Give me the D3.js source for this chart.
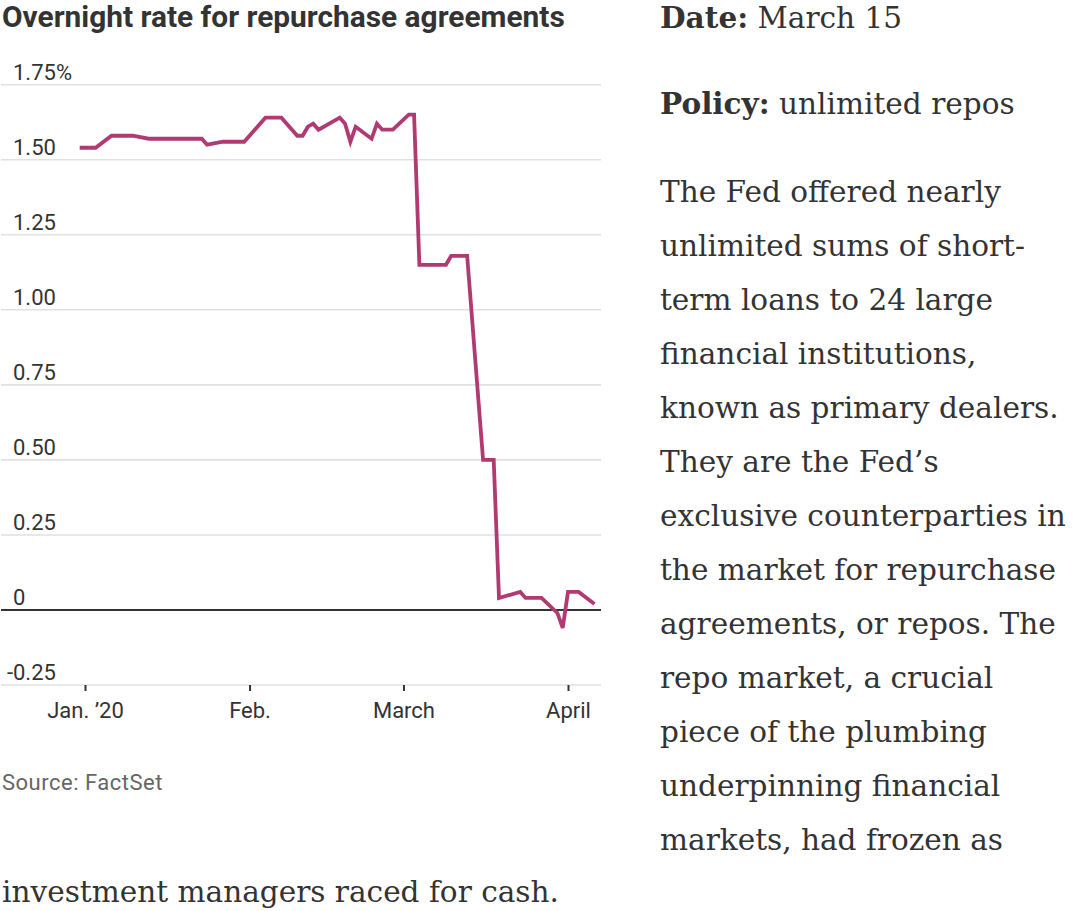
<!DOCTYPE html>
<html>
<head>
<meta charset="utf-8">
<script src="https://cdn.jsdelivr.net/npm/d3@7"></script>
<style>
  body { margin: 0; background: #fff; }
  svg { display: block; }
</style>
</head>
<body>
<script>
// overnight repo rate (%)
var dates = ["2019-12-31", "2020-01-03", "2020-01-06", "2020-01-10", "2020-01-13",
  "2020-01-23", "2020-01-24", "2020-01-27", "2020-01-31", "2020-02-04", "2020-02-07",
  "2020-02-10", "2020-02-11", "2020-02-12", "2020-02-13", "2020-02-14", "2020-02-18",
  "2020-02-19", "2020-02-20", "2020-02-21", "2020-02-24", "2020-02-25", "2020-02-26",
  "2020-02-28", "2020-03-02", "2020-03-03", "2020-03-04", "2020-03-09", "2020-03-10",
  "2020-03-13", "2020-03-16", "2020-03-18", "2020-03-19", "2020-03-23", "2020-03-24",
  "2020-03-27", "2020-03-30", "2020-03-31", "2020-04-01", "2020-04-03", "2020-04-06"];
var rates = [1.54, 1.54, 1.58, 1.58, 1.57,
  1.57, 1.55, 1.56, 1.56, 1.64, 1.64,
  1.58, 1.58, 1.61, 1.62, 1.60, 1.64,
  1.62, 1.56, 1.61, 1.57, 1.62, 1.60,
  1.60, 1.65, 1.65, 1.15, 1.15, 1.18,
  1.18, 0.50, 0.50, 0.04, 0.06, 0.04,
  0.04, -0.01, -0.06, 0.06, 0.06, 0.02];

var yTicks = [-0.25, 0, 0.25, 0.5, 0.75, 1, 1.25, 1.5, 1.75];
var yTickLabels = ["-0.25", "0", "0.25", "0.50", "0.75", "1.00", "1.25", "1.50", "1.75%"];
var xTicks = ["2020-01-01", "2020-02-01", "2020-03-01", "2020-04-01"];
var xTickLabels = ["Jan. \u201920", "Feb.", "March", "April"];

var title = "Overnight rate for repurchase agreements";
var source = "Source: FactSet";
var bodyLines = [
  "The Fed offered nearly",
  "unlimited sums of short-",
  "term loans to 24 large",
  "financial institutions,",
  "known as primary dealers.",
  "They are the Fed\u2019s",
  "exclusive counterparties in",
  "the market for repurchase",
  "agreements, or repos. The",
  "repo market, a crucial",
  "piece of the plumbing",
  "underpinning financial",
  "markets, had frozen as"
];
var lastLine = "investment managers raced for cash.";

var sans = "Roboto, 'Open Sans', sans-serif";
var serif = "'DejaVu Serif', 'Liberation Serif', serif";
var ink = "#333";
var tickSize = 22;

var W = 1076, H = 911;
var parse = d3.utcParse("%Y-%m-%d");
var data = dates.map(function(d, i) { return {date: parse(d), rate: rates[i]}; });

var svg = d3.select("body").append("svg")
  .attr("width", W)
  .attr("height", H);

// shrink or grow a text so it spans the given width
function fit(sel, target) {
  var size = parseFloat(sel.attr("font-size"));
  var w = sel.node().getComputedTextLength();
  sel.attr("font-size", (size * target / w).toFixed(2));
}

// title
var t = svg.append("text")
  .attr("x", 2).attr("y", 27)
  .attr("font-family", sans).attr("font-weight", 700)
  .attr("font-size", 25).attr("fill", ink)
  .text(title);
fit(t, 563);

// scales
var plotLeft = 1, plotRight = 601;
var x = d3.scaleUtc()
  .domain([parse(xTicks[0]), parse(xTicks[3])])
  .range([85, 568]);
var y = d3.scaleLinear()
  .domain([-0.25, 1.75])
  .range([685, 84.7]);

// gridlines + y labels
var grid = svg.append("g");
grid.selectAll("line")
  .data(yTicks)
  .join("line")
  .attr("x1", plotLeft).attr("x2", plotRight)
  .attr("y1", function(d) { return y(d); })
  .attr("y2", function(d) { return y(d); })
  .attr("stroke", function(d) { return d === 0 ? ink : "#e1e1e1"; })
  .attr("stroke-width", function(d) { return d === 0 ? 2 : 1.6; });

var probe = svg.append("text").attr("font-family", sans).attr("font-size", tickSize).text("-");
var minusW = probe.node().getComputedTextLength();
probe.remove();

grid.selectAll("text")
  .data(yTicks)
  .join("text")
  .attr("x", function(d) { return d < 0 ? 13 - minusW : 13; })
  .attr("y", function(d) { return y(d) - 5; })
  .attr("font-family", sans).attr("font-size", tickSize)
  .attr("fill", ink)
  .text(function(d, i) { return yTickLabels[i]; });

// x axis
var xAxis = d3.axisBottom(x)
  .tickValues(xTicks.map(parse))
  .tickFormat(function(d, i) { return xTickLabels[i]; })
  .tickSize(6)
  .tickPadding(11);

var gx = svg.append("g")
  .attr("transform", "translate(0," + y(-0.25) + ")")
  .call(xAxis);
gx.select(".domain").remove();
gx.selectAll(".tick line").attr("stroke", ink).attr("stroke-width", 2);
gx.selectAll(".tick text")
  .attr("fill", ink)
  .attr("font-family", sans)
  .attr("font-size", tickSize);

// the rate line
var line = d3.line()
  .x(function(d) { return x(d.date); })
  .y(function(d) { return y(d.rate); });

svg.append("path")
  .datum(data)
  .attr("d", line)
  .attr("fill", "none")
  .attr("stroke", "#b03b72")
  .attr("stroke-width", 3.8);

// source
svg.append("text")
  .attr("x", 2).attr("y", 790)
  .attr("font-family", sans).attr("font-size", tickSize)
  .attr("letter-spacing", 0.5)
  .attr("fill", "#666")
  .text(source);

// right column text
var colX = 660;
var ref = svg.append("text")
  .attr("font-family", serif).attr("font-size", 32)
  .text(bodyLines[0]);
var bodySize = 32 * 341 / ref.node().getComputedTextLength();
ref.remove();

function labelled(yy, head, rest) {
  var tx = svg.append("text")
    .attr("x", colX).attr("y", yy)
    .attr("font-family", serif).attr("font-size", bodySize)
    .attr("fill", ink);
  tx.append("tspan").attr("font-weight", 700).text(head);
  tx.append("tspan").text(rest);
}
labelled(28, "Date:", " March 15");
labelled(114, "Policy:", " unlimited repos");

svg.append("g").selectAll("text")
  .data(bodyLines)
  .join("text")
  .attr("x", colX)
  .attr("y", function(d, i) { return 202 + i * 54; })
  .attr("font-family", serif).attr("font-size", bodySize)
  .attr("fill", ink)
  .text(function(d) { return d; });

svg.append("text")
  .attr("x", 2).attr("y", 902)
  .attr("font-family", serif).attr("font-size", bodySize)
  .attr("fill", ink)
  .text(lastLine);
</script>
</body>
</html>
